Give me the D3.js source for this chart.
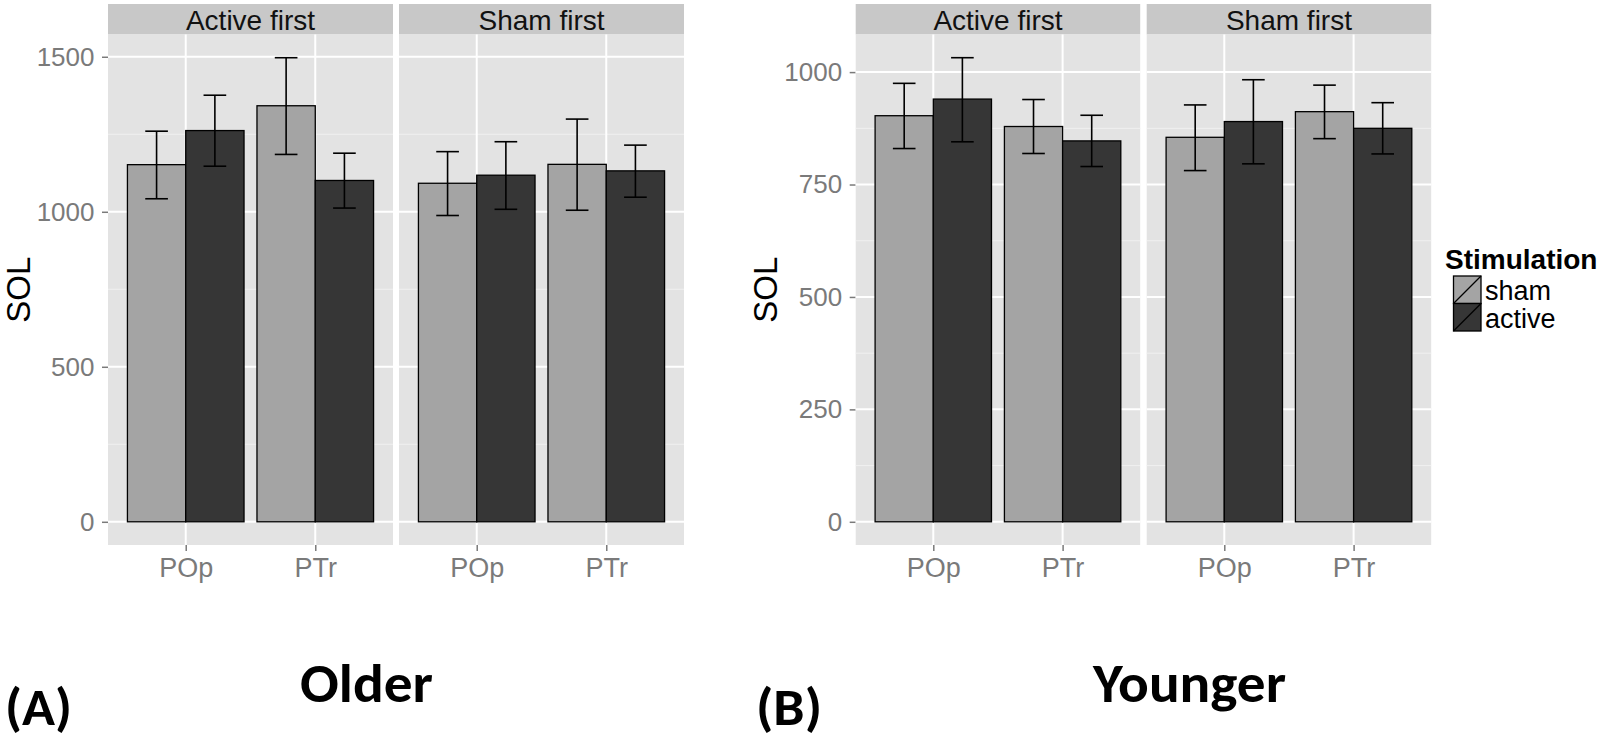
<!DOCTYPE html>
<html>
<head>
<meta charset="utf-8">
<script src="https://cdn.jsdelivr.net/npm/d3@7"></script>
<style>
  html, body { margin: 0; padding: 0; background: #ffffff; }
  svg { display: block; }
</style>
</head>
<body>
<svg id="chart" width="1604" height="743"></svg>
<script>
// ---------------- DATA ----------------
const facets = ["Active first", "Sham first"];
const regions = ["POp", "PTr"];
const stimulation = ["sham", "active"];

// order of values: facet (Active first, Sham first) x region (POp, PTr) x stimulation (sham, active)
const olderMean  = [1152, 1262, 1342, 1101, 1092, 1118, 1153, 1132];
const olderLower = [1042, 1147, 1185, 1012,  988, 1008, 1005, 1047];
const olderUpper = [1260, 1376, 1497, 1189, 1194, 1226, 1299, 1215];

const youngerMean  = [903, 940, 879, 847, 855, 890, 912, 875];
const youngerLower = [830, 845, 819, 790, 781, 796, 852, 818];
const youngerUpper = [975, 1032, 939, 904, 927, 983, 971, 932];

const olderTicks = [0, 500, 1000, 1500];
const olderMinorTicks = [250, 750, 1250];
const youngerTicks = [0, 250, 500, 750, 1000];
const youngerMinorTicks = [125, 375, 625, 875];

const yTitle = "SOL";
const legendTitle = "Stimulation";
const chartTitles = ["Older", "Younger"];
const panelLabels = ["(A)", "(B)"];

// ---------------- STYLE ----------------
const fillColor = d3.scaleOrdinal().domain(stimulation).range(["#a4a4a4", "#363636"]);
const panelBg = "#e3e3e3";
const stripBg = "#c8c8c8";
const axisGrey = "#7a7a7a";

const svg = d3.select("#chart");

function buildRows(mean, lower, upper) {
  const rows = [];
  let i = 0;
  facets.forEach(f => regions.forEach(r => stimulation.forEach(s => {
    rows.push({facet: f, region: r, stim: s, mean: mean[i], lo: lower[i], hi: upper[i]});
    i++;
  })));
  return rows;
}

function drawChart(cfg) {
  const rows = buildRows(cfg.mean, cfg.lower, cfg.upper);
  const top = 34.5, bottom = 545, stripTop = 4;
  const maxV = d3.max(rows, d => d.hi);
  const pad = 0.05 * maxV;
  const y = d3.scaleLinear().domain([-pad, maxV + pad]).range([bottom, top]);

  const g = svg.append("g");

  // y title
  g.append("text")
    .attr("transform", `translate(${cfg.yTitleX},${(top + bottom) / 2}) rotate(-90)`)
    .attr("text-anchor", "middle")
    .style("font-family", "'Liberation Sans', Arial, sans-serif")
    .style("font-size", "33px")
    .attr("fill", "#000")
    .text(yTitle);

  // y axis
  const yAxis = g.append("g")
    .attr("transform", `translate(${cfg.left},0)`)
    .call(d3.axisLeft(y).tickValues(cfg.ticks).tickFormat(d3.format("d")).tickSize(6).tickPadding(7.5));
  yAxis.select(".domain").remove();
  yAxis.selectAll(".tick line").attr("stroke", axisGrey).attr("stroke-width", 1.5);
  yAxis.selectAll(".tick text")
    .attr("fill", axisGrey)
    .style("font-family", "'Liberation Sans', Arial, sans-serif")
    .style("font-size", "26px");

  facets.forEach((f, fi) => {
    const x0 = cfg.left + fi * (cfg.panelW + cfg.gap);
    const x = d3.scalePoint().domain(regions).range([x0, x0 + cfg.panelW]).padding(0.6);
    const step = x.step();
    const dodge = d3.scaleBand().domain(stimulation).range([-0.45 * step, 0.45 * step]);

    // strip
    g.append("rect").attr("x", x0).attr("y", stripTop).attr("width", cfg.panelW)
      .attr("height", top - stripTop).attr("fill", stripBg);
    g.append("text").attr("x", x0 + cfg.panelW / 2).attr("y", 30)
      .attr("text-anchor", "middle")
      .style("font-family", "'Liberation Sans', Arial, sans-serif")
      .style("font-size", "28px").attr("fill", "#111")
      .text(f);

    // panel background
    g.append("rect").attr("x", x0).attr("y", top).attr("width", cfg.panelW)
      .attr("height", bottom - top).attr("fill", panelBg);

    // minor grid
    g.selectAll(null).data(cfg.minor).enter().append("line")
      .attr("x1", x0).attr("x2", x0 + cfg.panelW)
      .attr("y1", d => y(d)).attr("y2", d => y(d))
      .attr("stroke", "#f0f0f0").attr("stroke-width", 1);
    // major grid
    g.selectAll(null).data(cfg.ticks).enter().append("line")
      .attr("x1", x0).attr("x2", x0 + cfg.panelW)
      .attr("y1", d => y(d)).attr("y2", d => y(d))
      .attr("stroke", "#ffffff").attr("stroke-width", 2);
    g.selectAll(null).data(regions).enter().append("line")
      .attr("x1", d => x(d)).attr("x2", d => x(d))
      .attr("y1", top).attr("y2", bottom)
      .attr("stroke", "#ffffff").attr("stroke-width", 2);

    const fr = rows.filter(d => d.facet === f);

    // bars
    g.selectAll(null).data(fr).enter().append("rect")
      .attr("x", d => x(d.region) + dodge(d.stim))
      .attr("width", dodge.bandwidth())
      .attr("y", d => y(d.mean))
      .attr("height", d => y(0) - y(d.mean))
      .attr("fill", d => fillColor(d.stim))
      .attr("stroke", "#000").attr("stroke-width", 1.3);

    // error bars
    const capHalf = 0.0875 * step;
    const eb = g.selectAll(null).data(fr).enter().append("g")
      .attr("transform", d => `translate(${x(d.region) + dodge(d.stim) + dodge.bandwidth() / 2},0)`);
    eb.append("line").attr("x1", 0).attr("x2", 0)
      .attr("y1", d => y(d.lo)).attr("y2", d => y(d.hi))
      .attr("stroke", "#000").attr("stroke-width", 1.6);
    eb.append("line").attr("x1", -capHalf).attr("x2", capHalf)
      .attr("y1", d => y(d.lo)).attr("y2", d => y(d.lo))
      .attr("stroke", "#000").attr("stroke-width", 1.6);
    eb.append("line").attr("x1", -capHalf).attr("x2", capHalf)
      .attr("y1", d => y(d.hi)).attr("y2", d => y(d.hi))
      .attr("stroke", "#000").attr("stroke-width", 1.6);

    // x axis
    const xAxis = g.append("g").attr("transform", `translate(0,${bottom})`)
      .call(d3.axisBottom(x).tickSize(6).tickPadding(6.8));
    xAxis.select(".domain").remove();
    xAxis.selectAll(".tick line").attr("stroke", axisGrey).attr("stroke-width", 1.5);
    xAxis.selectAll(".tick text")
      .attr("fill", axisGrey)
      .style("font-family", "'Liberation Sans', Arial, sans-serif")
      .style("font-size", "27px");
  });

  // titles below
  g.append("text").attr("x", cfg.labelX).attr("y", 725)
    .attr("textLength", cfg.labelW).attr("lengthAdjust", "spacingAndGlyphs")
    .style("font-family", "Carlito, 'Open Sans', sans-serif").style("font-weight", "700")
    .style("font-size", "52px").attr("fill", "#000")
    .text(cfg.label);
  g.append("text").attr("x", cfg.titleX).attr("y", 702)
    .attr("textLength", cfg.titleW).attr("lengthAdjust", "spacingAndGlyphs")
    .style("font-family", "Carlito, 'Open Sans', sans-serif").style("font-weight", "700")
    .style("font-size", "55px").attr("fill", "#000")
    .text(cfg.title);
}

drawChart({
  mean: olderMean, lower: olderLower, upper: olderUpper,
  ticks: olderTicks, minor: olderMinorTicks,
  left: 108, panelW: 285, gap: 6, yTitleX: 30,
  label: panelLabels[0], labelX: 5, labelW: 67,
  title: chartTitles[0], titleX: 300, titleW: 133
});

drawChart({
  mean: youngerMean, lower: youngerLower, upper: youngerUpper,
  ticks: youngerTicks, minor: youngerMinorTicks,
  left: 855.7, panelW: 284.5, gap: 6.5, yTitleX: 777,
  label: panelLabels[1], labelX: 756, labelW: 66,
  title: chartTitles[1], titleX: 1093, titleW: 193
});

// legend
const lg = svg.append("g");
lg.append("text").attr("x", 1445).attr("y", 269)
  .style("font-family", "'Liberation Sans', Arial, sans-serif")
  .style("font-weight", "700").style("font-size", "28px").attr("fill", "#000")
  .text(legendTitle);
const keyY = d3.scaleBand().domain(stimulation).range([276, 331]);
const items = lg.selectAll(null).data(stimulation).enter().append("g")
  .attr("transform", d => `translate(1453.5,${keyY(d)})`);
items.append("rect").attr("width", 27.5).attr("height", keyY.bandwidth())
  .attr("fill", d => fillColor(d)).attr("stroke", "#000").attr("stroke-width", 1.3);
items.append("line").attr("x1", 0).attr("y1", keyY.bandwidth()).attr("x2", 27.5).attr("y2", 0)
  .attr("stroke", "#000").attr("stroke-width", 1.3);
items.append("text").attr("x", 31.5).attr("y", keyY.bandwidth() - 3.5)
  .style("font-family", "'Liberation Sans', Arial, sans-serif")
  .style("font-size", "27px").attr("fill", "#000")
  .text(d => d);
</script>
</body>
</html>
